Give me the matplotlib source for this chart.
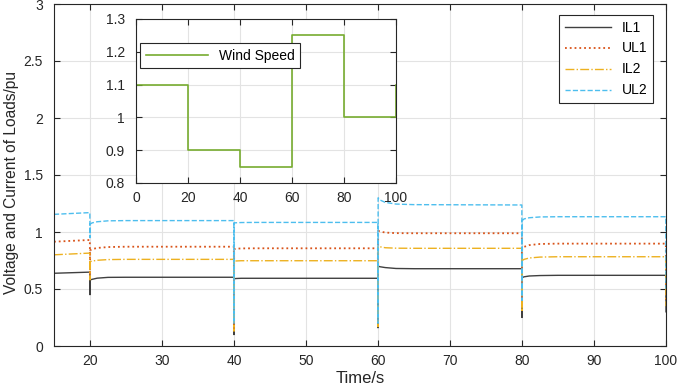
import numpy as np
import matplotlib
matplotlib.use("Agg")
import matplotlib.pyplot as plt

plt.rcParams['font.family'] = ['Liberation Sans', 'DejaVu Sans']

# ---- data ----
t = [15, 19.98, 20.0, 20.02, 20.3, 21, 22.5, 25,
     39.98, 40.0, 40.02, 40.3, 41, 43,
     59.98, 60.0, 60.02, 60.3, 61, 62.5, 65,
     79.98, 80.0, 80.02, 80.3, 81, 82.5, 85,
     99.98, 100.0]

il1 = [0.638, 0.648, 0.45, 0.58, 0.585, 0.595, 0.602, 0.603,
       0.603, 0.10, 0.59, 0.592, 0.594, 0.594,
       0.594, 0.16, 0.70, 0.695, 0.688, 0.68, 0.678,
       0.678, 0.25, 0.60, 0.607, 0.614, 0.618, 0.62,
       0.62, 0.30]
ul1 = [0.915, 0.93, 0.60, 0.84, 0.85, 0.86, 0.868, 0.871,
       0.871, 0.15, 0.85, 0.853, 0.856, 0.857,
       0.857, 0.18, 1.01, 1.005, 0.995, 0.99, 0.989,
       0.989, 0.35, 0.86, 0.87, 0.885, 0.895, 0.898,
       0.898, 0.38]
il2 = [0.80, 0.815, 0.58, 0.74, 0.745, 0.752, 0.758, 0.76,
       0.76, 0.13, 0.745, 0.746, 0.748, 0.748,
       0.748, 0.17, 0.875, 0.87, 0.862, 0.858, 0.857,
       0.857, 0.30, 0.75, 0.76, 0.772, 0.78, 0.783,
       0.783, 0.35]
ul2 = [1.155, 1.17, 0.95, 1.07, 1.08, 1.09, 1.098, 1.10,
       1.10, 0.20, 1.08, 1.081, 1.083, 1.084,
       1.084, 0.20, 1.30, 1.28, 1.26, 1.245, 1.24,
       1.237, 0.40, 1.10, 1.115, 1.125, 1.132, 1.134,
       1.134, 0.50]

wind_t = [0, 20, 40, 60, 80, 100]
wind_v = [1.1, 0.9, 0.85, 1.25, 1.0, 1.1]

main_yticks = [0, 0.5, 1, 1.5, 2, 2.5, 3]
main_ylabels = ['0', '0.5', '1', '1.5', '2', '2.5', '3']
inset_yticks = [0.8, 0.9, 1.0, 1.1, 1.2, 1.3]
inset_ylabels = ['0.8', '0.9', '1', '1.1', '1.2', '1.3']

W, H = 678, 387
fig = plt.figure(figsize=(W/100, H/100), dpi=100)

def style(ax):
	ax.grid(True, color='#e3e3e3', linewidth=0.8)
	ax.set_axisbelow(True)
	ax.tick_params(direction='in', top=True, right=True, labelsize=10,
		colors='#262626', length=4, width=0.8)
	ax.tick_params(axis='x', pad=6)
	ax.tick_params(axis='y', pad=8)
	for s in ax.spines.values():
		s.set_color('#262626')
		s.set_linewidth(0.8)

ax = fig.add_axes([54/W, 1-346/H, (666-54)/W, (346-4)/H])
ax.plot(t, il1, '-', color='#404040', lw=1.0, label='IL1')
ax.plot(t, ul1, ':', color='#D95319', lw=1.3, label='UL1')
ax.plot(t, il2, '-.', color='#EDB120', lw=1.0, label='IL2')
ax.plot(t, ul2, '--', color='#4DBEEE', lw=1.0, label='UL2')
ax.set_xlim(15, 100)
ax.set_ylim(0, 3)
ax.set_xticks(range(20, 101, 10))
ax.set_yticks(main_yticks)
ax.set_yticklabels(main_ylabels)
style(ax)
ax.set_xlabel('Time/s', fontsize=12, color='#262626')
ax.set_ylabel('Voltage and Current of Loads/pu', fontsize=11.2, color='#262626')
ax.xaxis.set_label_coords(0.5, -0.074)
ax.yaxis.set_label_coords(-0.058, 0.477)
leg = ax.legend(loc='upper right', bbox_to_anchor=(653/W, 1-15/H),
	bbox_transform=fig.transFigure, borderaxespad=0, fontsize=10,
	handlelength=3.3, fancybox=False, framealpha=1, edgecolor='#262626')
leg.get_frame().set_linewidth(0.8)

ins = fig.add_axes([136/W, 1-183/H, 260/W, (183-19)/H])
ins.plot(wind_t, wind_v, drawstyle='steps-post', color='#77AC30', lw=1.2, label='Wind Speed')
ins.set_xlim(0, 100)
ins.set_ylim(0.8, 1.3)
ins.set_xticks(range(0, 101, 20))
ins.set_yticks(inset_yticks)
ins.set_yticklabels(inset_ylabels)
style(ins)
leg2 = ins.legend(loc='upper left', bbox_to_anchor=(140/W, 1-43/H),
	bbox_transform=fig.transFigure, borderaxespad=0, fontsize=10,
	handlelength=4.5, fancybox=False, framealpha=1, edgecolor='#262626')
leg2.get_frame().set_linewidth(0.8)

fig.savefig('out.png', dpi=100)
